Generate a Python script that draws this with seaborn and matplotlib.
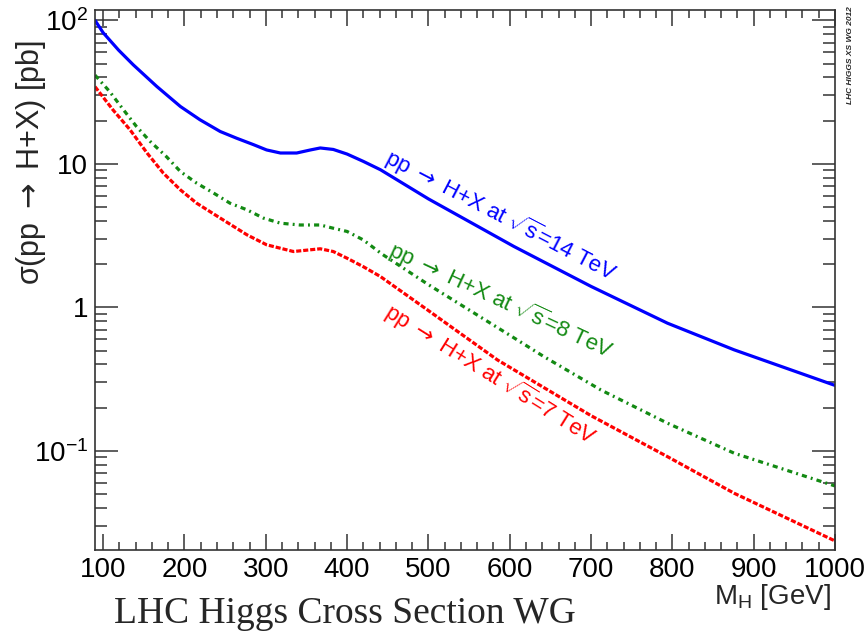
import numpy as np
import pandas as pd
import seaborn as sns
import matplotlib
matplotlib.use("Agg")
import matplotlib.pyplot as plt
from matplotlib.ticker import MultipleLocator, LogLocator, FixedLocator, FixedFormatter, NullFormatter

# Higgs mass points [GeV] and total cross sections [pb]
mass_14 = [90, 100, 119, 137, 166, 195, 219, 244, 264, 285, 301, 318, 338, 355, 367,
           383, 400, 420, 441, 500, 605, 700, 794, 876, 1000]
xs_14 = [100, 82, 62, 49, 34.6, 25.1, 20.3, 16.8, 15.1, 13.6, 12.5, 11.9, 11.9, 12.5, 12.9,
         12.6, 11.7, 10.4, 9.1, 5.7, 2.66, 1.40, 0.776, 0.506, 0.286]

mass_8 = [90, 108, 125, 141, 158, 178, 195, 215, 236, 256, 277, 297, 318, 342, 367,
          383, 400, 420, 443, 500, 600, 642, 712, 794, 876, 1000]
xs_8 = [41.5, 31.9, 23.8, 18.2, 14.3, 11.2, 8.84, 7.34, 6.25, 5.32, 4.78, 4.19, 3.86, 3.75, 3.75,
        3.56, 3.38, 2.95, 2.35, 1.44, 0.64, 0.454, 0.266, 0.156, 0.0964, 0.057]

mass_7 = [90, 112, 133, 154, 174, 195, 215, 244, 277, 301, 334, 367, 383, 400, 420,
          441, 500, 585, 700, 794, 876, 1000]
xs_7 = [34.5, 23.8, 17.3, 11.9, 8.62, 6.59, 5.32, 4.19, 3.20, 2.73, 2.45, 2.56, 2.45, 2.20, 1.92,
        1.64, 0.95, 0.43, 0.176, 0.0912, 0.0507, 0.0236]

energies = ["14", "8", "7"]
labels = {
    "14": r"pp $\mathsf{\rightarrow}$ H+X at $\sqrt{\mathrm{s}}$=14 TeV",
    "8": r"pp $\mathsf{\rightarrow}$ H+X at $\sqrt{\mathrm{s}}$=8 TeV",
    "7": r"pp $\mathsf{\rightarrow}$ H+X at $\sqrt{\mathrm{s}}$=7 TeV",
}

df = pd.concat([
    pd.DataFrame({"mass": mass_14, "xs": xs_14, "energy": "14"}),
    pd.DataFrame({"mass": mass_8, "xs": xs_8, "energy": "8"}),
    pd.DataFrame({"mass": mass_7, "xs": xs_7, "energy": "7"}),
], ignore_index=True)

sns.set_style("ticks")
plt.rcParams["font.family"] = ["Liberation Sans", "DejaVu Sans"]
plt.rcParams["mathtext.fontset"] = "custom"
plt.rcParams["mathtext.rm"] = "Liberation Sans"
plt.rcParams["mathtext.it"] = "Liberation Sans:italic"
plt.rcParams["mathtext.bf"] = "Liberation Sans:bold"
plt.rcParams["mathtext.sf"] = "DejaVu Sans"

W, H = 867, 631
fig = plt.figure(figsize=(W / 100, H / 100), dpi=100)
ax = fig.add_axes([95 / W, 1 - 550 / H, (835 - 95) / W, (550 - 10) / H])

styles = {
    "14": dict(color="#0000ff", ls="-", lw=2.3),
    "8": dict(color="#138a13", ls=(0, (1.6, 1.3, 0.6, 1.3)), lw=2.3),
    "7": dict(color="#ff0000", ls=(0, (1.6, 0.6)), lw=2.3),
}
for e in energies:
    sns.lineplot(data=df[df.energy == e], x="mass", y="xs", ax=ax,
                 color=styles[e]["color"], linestyle=styles[e]["ls"],
                 linewidth=styles[e]["lw"], legend=False)

ax.set_yscale("log")
ax.set_xlim(90, 1000)
ax.set_ylim(0.0204, 118)
ax.set_xlabel("")
ax.set_ylabel("")

ax.xaxis.set_major_locator(MultipleLocator(100))
ax.xaxis.set_minor_locator(MultipleLocator(20))
ax.yaxis.set_major_locator(FixedLocator([0.1, 1, 10, 100]))
ax.yaxis.set_major_formatter(FixedFormatter([r"10$^{-1}$", "1", "10", r"10$^{2}$"]))
ax.yaxis.set_minor_locator(LogLocator(base=10, subs=np.arange(2, 10)))
ax.yaxis.set_minor_formatter(NullFormatter())

for s in ax.spines.values():
    s.set_visible(True)
    s.set_linewidth(1.2)
    s.set_color("#333333")
ax.tick_params(which="both", direction="in", top=True, right=True, colors="#333333",
               labelcolor="black", labelsize=20, width=1.1)
ax.tick_params(axis="x", which="major", length=11.5, pad=5)
ax.tick_params(axis="x", which="minor", length=5.5)
ax.tick_params(axis="y", which="major", length=16.5, pad=5)
ax.tick_params(axis="y", which="minor", length=8.5)

# curve labels
def px(x, y):
    return x / W, 1 - y / H

for e, (x0, y0), rot in [("14", (387, 156), -27.5), ("8", (390, 249), -25.0), ("7", (387, 310), -32.0)]:
    fig.text(*px(x0, y0), labels[e], color=styles[e]["color"], fontsize=16,
             rotation=rot, rotation_mode="anchor", ha="left", va="center")

fig.text(*px(31, 40), r"σ(pp $\mathsf{\rightarrow}$ H+X) [pb]", rotation=90,
         ha="center", va="top", fontsize=22)
fig.text(*px(831, 604), r"M$_{\mathrm{H}}$ [GeV]", ha="right", va="baseline", fontsize=20)
fig.text(*px(345, 623), "LHC Higgs Cross Section WG", ha="center", va="baseline",
         fontsize=27, family="Liberation Serif")
fig.text(*px(851, 55), "LHC HIGGS XS WG 2012", rotation=90, ha="center", va="center",
         fontsize=6, fontweight="bold", fontstyle="italic")

fig.savefig("out.png", dpi=100)
